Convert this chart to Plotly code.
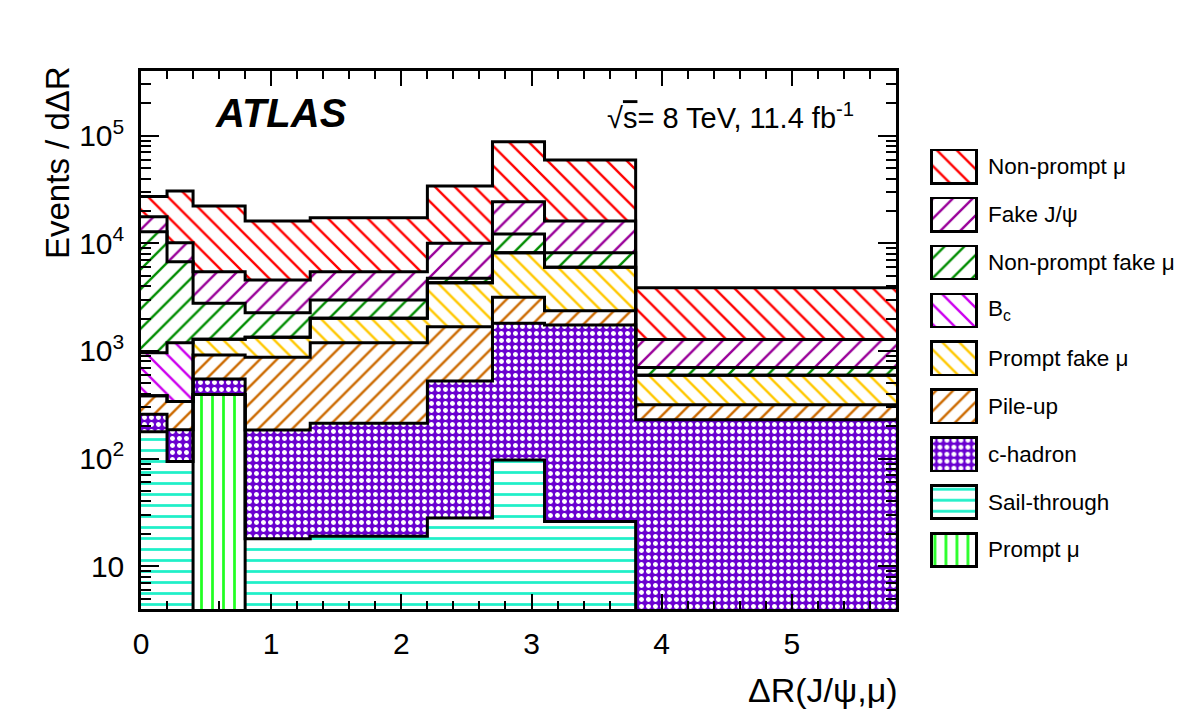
import math
import plotly.graph_objects as go

# ---------------- data ----------------
bin_edges = [0.0, 0.2, 0.4, 0.8, 1.3, 2.2, 2.7, 3.1, 3.8, 5.8]

# stacked from bottom to top
prompt_mu      = [0, 0, 395, 0, 0, 0, 0, 0, 0]
sail_through   = [178, 94, 0, 18, 19, 28, 97, 26, 0]
c_hadron       = [80, 91, 154, 166, 194, 498, 1710, 1716, 229]
pile_up        = [126, 154, 370, 689, 981, 1156, 1348, 624, 87]
prompt_fake_mu = [0, 0, 366, 467, 819, 2628, 5035, 3629, 279]
b_c            = [580, 856, 0, 0, 0, 0, 0, 0, 0]
nonprompt_fake = [11840, 5570, 1490, 930, 962, 420, 4010, 2195, 106]
fake_jpsi      = [4900, 3380, 2685, 2300, 2485, 5290, 12200, 7950, 579]
nonprompt_mu   = [9500, 20560, 16790, 11570, 11880, 24080, 63700, 43410, 2594]

labels_bottom_to_top = ["Prompt μ", "Sail-through", "c-hadron", "Pile-up",
                        "Prompt fake μ", "B<sub>c</sub>", "Non-prompt fake μ",
                        "Fake J/ψ", "Non-prompt μ"]
series_bottom_to_top = [prompt_mu, sail_through, c_hadron, pile_up,
                        prompt_fake_mu, b_c, nonprompt_fake, fake_jpsi, nonprompt_mu]

y_tick_values = [10, 100, 1000, 10000, 100000]
y_tick_labels = ["10", "10<sup>2</sup>", "10<sup>3</sup>", "10<sup>4</sup>", "10<sup>5</sup>"]

# ---------------- styles ----------------
styles = {
    "Prompt μ":          dict(shape="|", fg="#22ff22", bg="white", size=11, sol=0.25),
    "Sail-through":      dict(shape="-", fg="#1ff0c8", bg="white", size=11, sol=0.25),
    "c-hadron":          dict(shape=".", fg="white", bg="#6a00d0", size=7, sol=0.4),
    "Pile-up":           dict(shape="/", fg="#cc6a00", bg="white", size=12, sol=0.2),
    "Prompt fake μ":     dict(shape="\\", fg="#ffc800", bg="white", size=12, sol=0.2),
    "B<sub>c</sub>":     dict(shape="\\", fg="#cc00ee", bg="white", size=14, sol=0.17),
    "Non-prompt fake μ": dict(shape="/", fg="#008c00", bg="white", size=14, sol=0.17),
    "Fake J/ψ":          dict(shape="/", fg="#990099", bg="white", size=14, sol=0.17),
    "Non-prompt μ":      dict(shape="\\", fg="#ff0000", bg="white", size=14, sol=0.17),
}

FONT = "Liberation Sans, Arial, Helvetica, sans-serif"

W, H = 1182, 719
ML, MR, MT, MB = 141, 10, 71, 110
PW = W - ML - MR
PH = H - MT - MB
plot_right_px = 896


def px_x(p):
    return (p - ML) / PW


def px_y(p):
    return (H - MB - p) / PH


centers = [(a + b) / 2 for a, b in zip(bin_edges[:-1], bin_edges[1:])]
widths = [b - a for a, b in zip(bin_edges[:-1], bin_edges[1:])]

fig = go.Figure()

cum = [0.0] * len(centers)
levels = []
for name, vals in zip(labels_bottom_to_top, series_bottom_to_top):
    st = styles[name]
    fig.add_trace(go.Bar(
        x=centers, y=[v if v > 0 else None for v in vals], width=widths,
        marker=dict(color=st["bg"], line=dict(width=0),
                    pattern=dict(shape=st["shape"], fgcolor=st["fg"], bgcolor=st["bg"],
                                 size=st["size"], solidity=st["sol"], fillmode="replace")),
        showlegend=False, hoverinfo="skip", xaxis="x", yaxis="y"))
    cum = [c + v for c, v in zip(cum, vals)]
    levels.append(list(cum))

floor = 0.01  # below visible range, for step outline
for lv in levels:
    yy = [max(c, floor) for c in lv] + [max(lv[-1], floor)]
    fig.add_trace(go.Scatter(x=bin_edges, y=yy, mode="lines",
                             line=dict(color="black", width=3, shape="hv"),
                             showlegend=False, hoverinfo="skip", xaxis="x", yaxis="y"))

# ---------------- legend as a small subplot ----------------
legend_order = list(reversed(labels_bottom_to_top))
for i, name in enumerate(legend_order):
    st = styles[name]
    fig.add_trace(go.Bar(
        x=[1], y=[i], width=0.695, orientation="h",
        marker=dict(color=st["bg"], line=dict(color="black", width=2.5),
                    pattern=dict(shape=st["shape"], fgcolor=st["fg"], bgcolor=st["bg"],
                                 size=st["size"], solidity=st["sol"], fillmode="replace")),
        showlegend=False, hoverinfo="skip", xaxis="x2", yaxis="y2"))

leg_left, leg_right = 931.7, 976.7
unit = leg_right - leg_left
x2_dom = [px_x(leg_left - 0.05 * unit), px_x(leg_right + 0.05 * unit)]
first_c, step = 166.7, 47.9
y2_top = first_c - step / 2
y2_bot = first_c + 8 * step + step / 2
y2_dom = [px_y(y2_bot), px_y(y2_top)]

annotations = []
for i, name in enumerate(legend_order):
    annotations.append(dict(x=px_x(986), xref="paper", xanchor="left",
                            y=i, yref="y2", yanchor="middle", text=name,
                            showarrow=False, font=dict(size=22.5, family=FONT, color="black")))

annotations += [
    dict(x=px_x(213), y=px_y(113), xref="paper", yref="paper", xanchor="left", yanchor="middle",
         text="<b><i>ATLAS</i></b>", showarrow=False,
         font=dict(size=40, family=FONT, color="black")),
    dict(x=px_x(856), y=px_y(116), xref="paper", yref="paper", xanchor="right", yanchor="middle",
         text="√<span style='text-decoration:overline'>s</span>= 8 TeV, 11.4 fb<sup>-1</sup>",
         showarrow=False, font=dict(size=29, family=FONT, color="black")),
    dict(x=px_x(900), y=px_y(690), xref="paper", yref="paper", xanchor="right", yanchor="middle",
         text="ΔR(J/ψ,μ)", showarrow=False, font=dict(size=34, family=FONT, color="black")),
    dict(x=px_x(57), y=px_y(163), xref="paper", yref="paper", xanchor="center", yanchor="middle",
         text="Events / dΔR", textangle=-90, showarrow=False,
         font=dict(size=33, family=FONT, color="black")),
]

minor_y = [m * 10 ** k for k in range(0, 6) for m in range(2, 10)]

fig.update_layout(
    width=W, height=H,
    margin=dict(l=ML, r=MR, t=MT, b=MB),
    paper_bgcolor="white", plot_bgcolor="white",
    barmode="stack",
    font=dict(family=FONT, color="black"),
    showlegend=False,
    xaxis=dict(domain=[0, px_x(plot_right_px)], range=[bin_edges[0], bin_edges[-1]],
               anchor="y", showline=True, linecolor="black", linewidth=2.5, mirror="allticks",
               ticks="inside", ticklen=15, tickwidth=1.5, tickcolor="black",
               tick0=0, dtick=1, tickfont=dict(size=30, family=FONT, color="black"),
               minor=dict(ticks="inside", ticklen=8, dtick=0.2, tick0=0,
                          tickwidth=1.5, tickcolor="black", showgrid=False),
               showgrid=False, zeroline=False, ticklabelstandoff=6),
    yaxis=dict(type="log", range=[math.log10(4), math.log10(4e5)], anchor="x",
               showline=True, linecolor="black", linewidth=2.5, mirror="allticks",
               ticks="inside", ticklen=18, tickwidth=1.5, tickcolor="black",
               tickmode="array", tickvals=y_tick_values, ticktext=y_tick_labels,
               tickfont=dict(size=30, family=FONT, color="black"),
               minor=dict(ticks="inside", ticklen=10, tickmode="array", tickvals=minor_y,
                          tickwidth=1.5, tickcolor="black", showgrid=False),
               showgrid=False, zeroline=False, ticklabelstandoff=8),
    xaxis2=dict(domain=x2_dom, range=[-0.05, 1.05], anchor="y2", visible=False, fixedrange=True),
    yaxis2=dict(domain=y2_dom, range=[8.5, -0.5], anchor="x2", visible=False, fixedrange=True),
    annotations=annotations,
)

fig.write_html("out.html")
